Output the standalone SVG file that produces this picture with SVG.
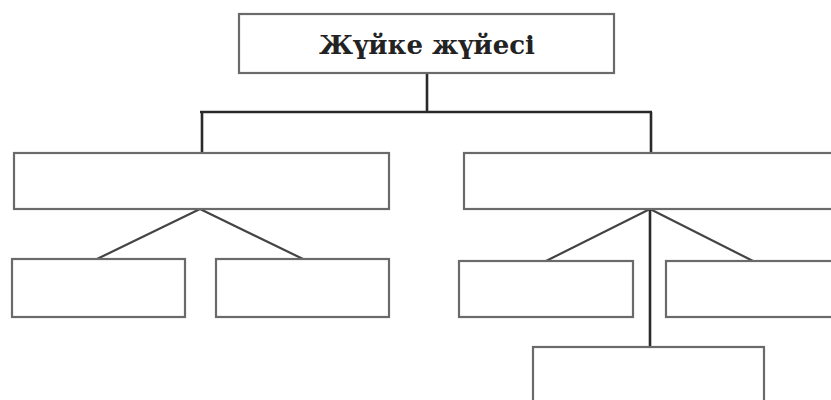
<svg xmlns="http://www.w3.org/2000/svg" width="831" height="400" viewBox="0 0 831 400">
<style>
.box{fill:#fff;stroke:#6a6a6a;stroke-width:2.2}
.con{fill:none;stroke:#2a2a2a;stroke-width:2.6}
.con2{fill:none;stroke:#444;stroke-width:2.2}
.t{font-family:"DejaVu Serif","Liberation Serif",serif;font-weight:bold;font-size:26px;fill:#222}
</style>
<rect width="831" height="400" fill="#fff"/>
<g id="connectors">
<path class="con" d="M427 73 V112 M200 112 H652 M202 112 V153 M651 112 V153"/>
<path class="con2" d="M200 209 L97 259 M200 209 L303 259 M650 209 L546 261 M650 209 L753 261"/>
<path class="con" d="M650 209 V347"/>
</g>
<g id="root"><rect class="box" x="239" y="14" width="375" height="59"/><text class="t" x="427" y="54" text-anchor="middle">Жүйке жүйесі</text></g>
<g id="left"><rect class="box" x="14" y="153" width="375" height="56"/></g>
<g id="right"><rect class="box" x="464" y="153" width="380" height="56"/></g>
<g id="left-a"><rect class="box" x="12" y="259" width="173" height="58"/></g>
<g id="left-b"><rect class="box" x="216" y="259" width="173" height="58"/></g>
<g id="right-a"><rect class="box" x="459" y="261" width="174" height="56"/></g>
<g id="right-b"><rect class="box" x="666" y="261" width="180" height="56"/></g>
<g id="right-c"><rect class="box" x="533" y="347" width="231" height="70"/></g>
</svg>
